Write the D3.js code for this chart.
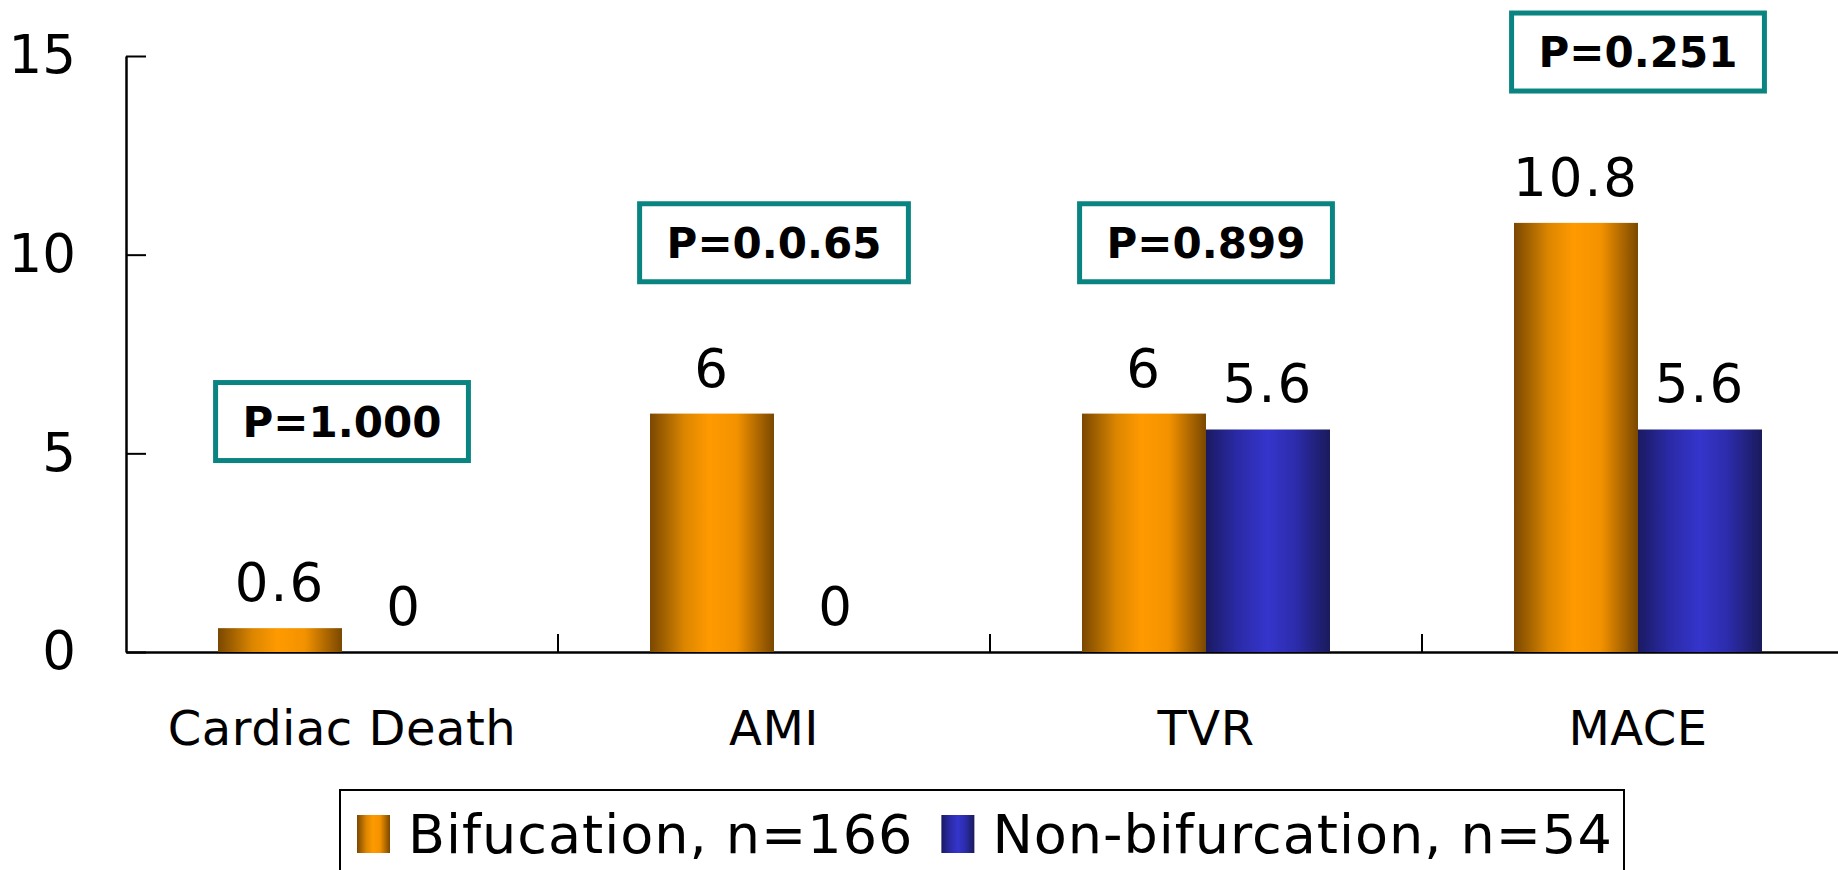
<!DOCTYPE html>
<html>
<head>
<meta charset="utf-8">
<script src="https://cdn.jsdelivr.net/npm/d3@7"></script>
<style>
  body { margin: 0; background: #fff; }
  svg { display: block; font-family: "DejaVu Sans", sans-serif; }
</style>
</head>
<body>
<div id="chart"></div>
<script>
// chart data
var categories = ["Cardiac Death", "AMI", "TVR", "MACE"];
var seriesNames = ["Bifucation, n=166", "Non-bifurcation, n=54"];
var bifurcation = [0.6, 6, 6, 10.8];
var nonBifurcation = [0, 0, 5.6, 5.6];
var pValues = ["P=1.000", "P=0.0.65", "P=0.899", "P=0.251"];
var yTicks = [0, 5, 10, 15];

var width = 1838, height = 870;
var plotLeft = 126, plotTop = 56, plotBottom = 652;

var svg = d3.select("#chart").append("svg")
    .attr("width", width)
    .attr("height", height);

var defs = svg.append("defs");

function cylinder(id, stops) {
    var g = defs.append("linearGradient").attr("id", id)
        .attr("x1", "0%").attr("x2", "100%").attr("y1", "0%").attr("y2", "0%");
    stops.forEach(function (s) {
        g.append("stop").attr("offset", s[0]).attr("stop-color", s[1]);
    });
}
cylinder("gOrange", [["0%", "#7a4800"], ["28%", "#dc8600"], ["48%", "#ff9a00"], ["70%", "#f39200"], ["100%", "#7a4800"]]);
cylinder("gBlue", [["0%", "#1a1a62"], ["25%", "#2a2aa6"], ["50%", "#3535cc"], ["72%", "#2c2cac"], ["100%", "#1a1a5c"]]);
var fills = ["url(#gOrange)", "url(#gBlue)"];

var x0 = d3.scaleBand().domain(categories).range([plotLeft, plotLeft + 4 * 432]).padding(0);
var x1 = d3.scaleBand().domain([0, 1]).range([92, 340]).padding(0);
var y = d3.scaleLinear().domain([0, 15]).range([plotBottom, plotTop]);

// y axis, ticks pointing inward
var yAxis = svg.append("g")
    .attr("transform", "translate(" + plotLeft + ",0)")
    .call(d3.axisLeft(y).tickValues(yTicks).tickSizeInner(-20).tickSizeOuter(0).tickPadding(50));
yAxis.select(".domain").attr("stroke", "#000").attr("stroke-width", 2.5);
yAxis.selectAll(".tick line").attr("stroke", "#000").attr("stroke-width", 2);
yAxis.selectAll(".tick text").attr("font-size", 53).attr("fill", "#000")
    .attr("font-family", "DejaVu Sans");

// x axis with category labels
var xAxis = svg.append("g")
    .attr("transform", "translate(0," + plotBottom + ")")
    .call(d3.axisBottom(x0).tickSize(0).tickPadding(59));
xAxis.select(".domain").attr("stroke", "#000").attr("stroke-width", 2.5);
xAxis.selectAll(".tick text").attr("font-size", 48).attr("fill", "#000")
    .attr("letter-spacing", 0.5)
    .attr("font-family", "DejaVu Sans");

// boundary ticks between categories
svg.append("g").selectAll("line")
    .data(categories.slice(1))
    .enter().append("line")
    .attr("x1", function (d) { return x0(d); })
    .attr("x2", function (d) { return x0(d); })
    .attr("y1", plotBottom)
    .attr("y2", plotBottom - 18)
    .attr("stroke", "#000")
    .attr("stroke-width", 2);

var rows = categories.map(function (c, i) {
    return { cat: c, vals: [bifurcation[i], nonBifurcation[i]] };
});

var groups = svg.append("g").selectAll("g")
    .data(rows)
    .enter().append("g")
    .attr("transform", function (d) { return "translate(" + x0(d.cat) + ",0)"; });

groups.selectAll("rect")
    .data(function (d) { return d.vals; })
    .enter().append("rect")
    .attr("x", function (d, i) { return x1(i); })
    .attr("y", function (d) { return y(d); })
    .attr("width", x1.bandwidth())
    .attr("height", function (d) { return plotBottom - y(d); })
    .attr("fill", function (d, i) { return fills[i]; });

groups.selectAll("text.val")
    .data(function (d) { return d.vals; })
    .enter().append("text")
    .attr("class", "val")
    .attr("x", function (d, i) { return x1(i) + x1.bandwidth() / 2; })
    .attr("y", function (d) { return y(d) - 27; })
    .attr("text-anchor", "middle")
    .attr("font-size", 53)
    .attr("letter-spacing", 2)
    .text(function (d) { return d; });

// p-value boxes
rows.forEach(function (r, i) {
    var cx = x0(r.cat) + x0.bandwidth() / 2;
    var cy = y(Math.max(d3.max(r.vals), 1.5) + 4.3);
    var g = svg.append("g");
    var rect = g.append("rect");
    var t = g.append("text")
        .attr("x", cx)
        .attr("y", cy + 15)
        .attr("text-anchor", "middle")
        .attr("font-size", 42)
        .attr("font-weight", "bold")
        .text(pValues[i]);
    var w = t.node().getComputedTextLength() + 54;
    rect.attr("x", cx - w / 2).attr("y", cy - 39)
        .attr("width", w).attr("height", 78)
        .attr("fill", "#fff")
        .attr("stroke", "#0a8480")
        .attr("stroke-width", 5);
});

// legend
var legend = svg.append("g");
legend.append("rect")
    .attr("x", 340).attr("y", 790)
    .attr("width", 1284).attr("height", 100)
    .attr("fill", "#fff").attr("stroke", "#000").attr("stroke-width", 2);

var lx = 357;
seriesNames.forEach(function (name, i) {
    legend.append("rect")
        .attr("x", lx).attr("y", 815)
        .attr("width", 33).attr("height", 38)
        .attr("fill", fills[i]);
    var t = legend.append("text")
        .attr("x", lx + 51).attr("y", 853)
        .attr("font-size", 54)
        .attr("letter-spacing", 1)
        .text(name);
    lx += 51 + t.node().getComputedTextLength() + 28;
});
</script>
</body>
</html>
